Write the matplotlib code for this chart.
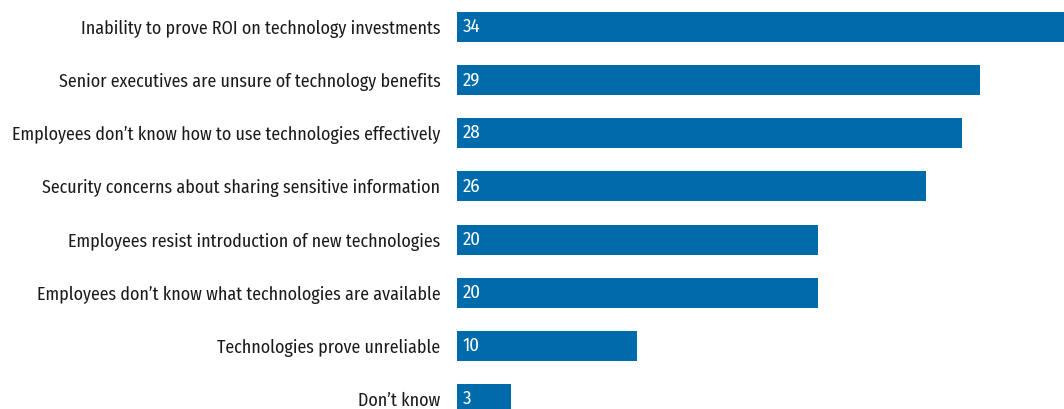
import matplotlib
matplotlib.use("Agg")
import matplotlib.pyplot as plt

categories = [
    "Inability to prove ROI on technology investments",
    "Senior executives are unsure of technology benefits",
    "Employees don\u2019t know how to use technologies effectively",
    "Security concerns about sharing sensitive information",
    "Employees resist introduction of new technologies",
    "Employees don\u2019t know what technologies are available",
    "Technologies prove unreliable",
    "Don\u2019t know",
]
values = [34, 29, 28, 26, 20, 20, 10, 3]

plt.rcParams["font.family"] = ["Fira Sans Condensed", "DejaVu Sans"]

bar_color = "#006bab"

fig = plt.figure(figsize=(10.64, 4.09), dpi=100)
ax = fig.add_axes([457 / 1064, 0, 1 - 457 / 1064, 1])

pos = list(range(len(categories)))
ax.barh(pos, values, height=0.565, color=bar_color)

# value labels inside the bars
for p, v in zip(pos, values):
    ax.text(0.33, p, str(v), color="white", fontsize=13.5, va="center", ha="left")

ax.set_yticks(pos)
ax.set_yticklabels(categories, fontsize=12.9, color="#1a1a1a")
ax.tick_params(axis="y", length=0, pad=12)
ax.set_xticks([])
ax.set_xlim(0, 33.65)
ax.set_ylim(7.188, -0.508)
for s in ax.spines.values():
    s.set_visible(False)

fig.savefig("out.png", dpi=100)
